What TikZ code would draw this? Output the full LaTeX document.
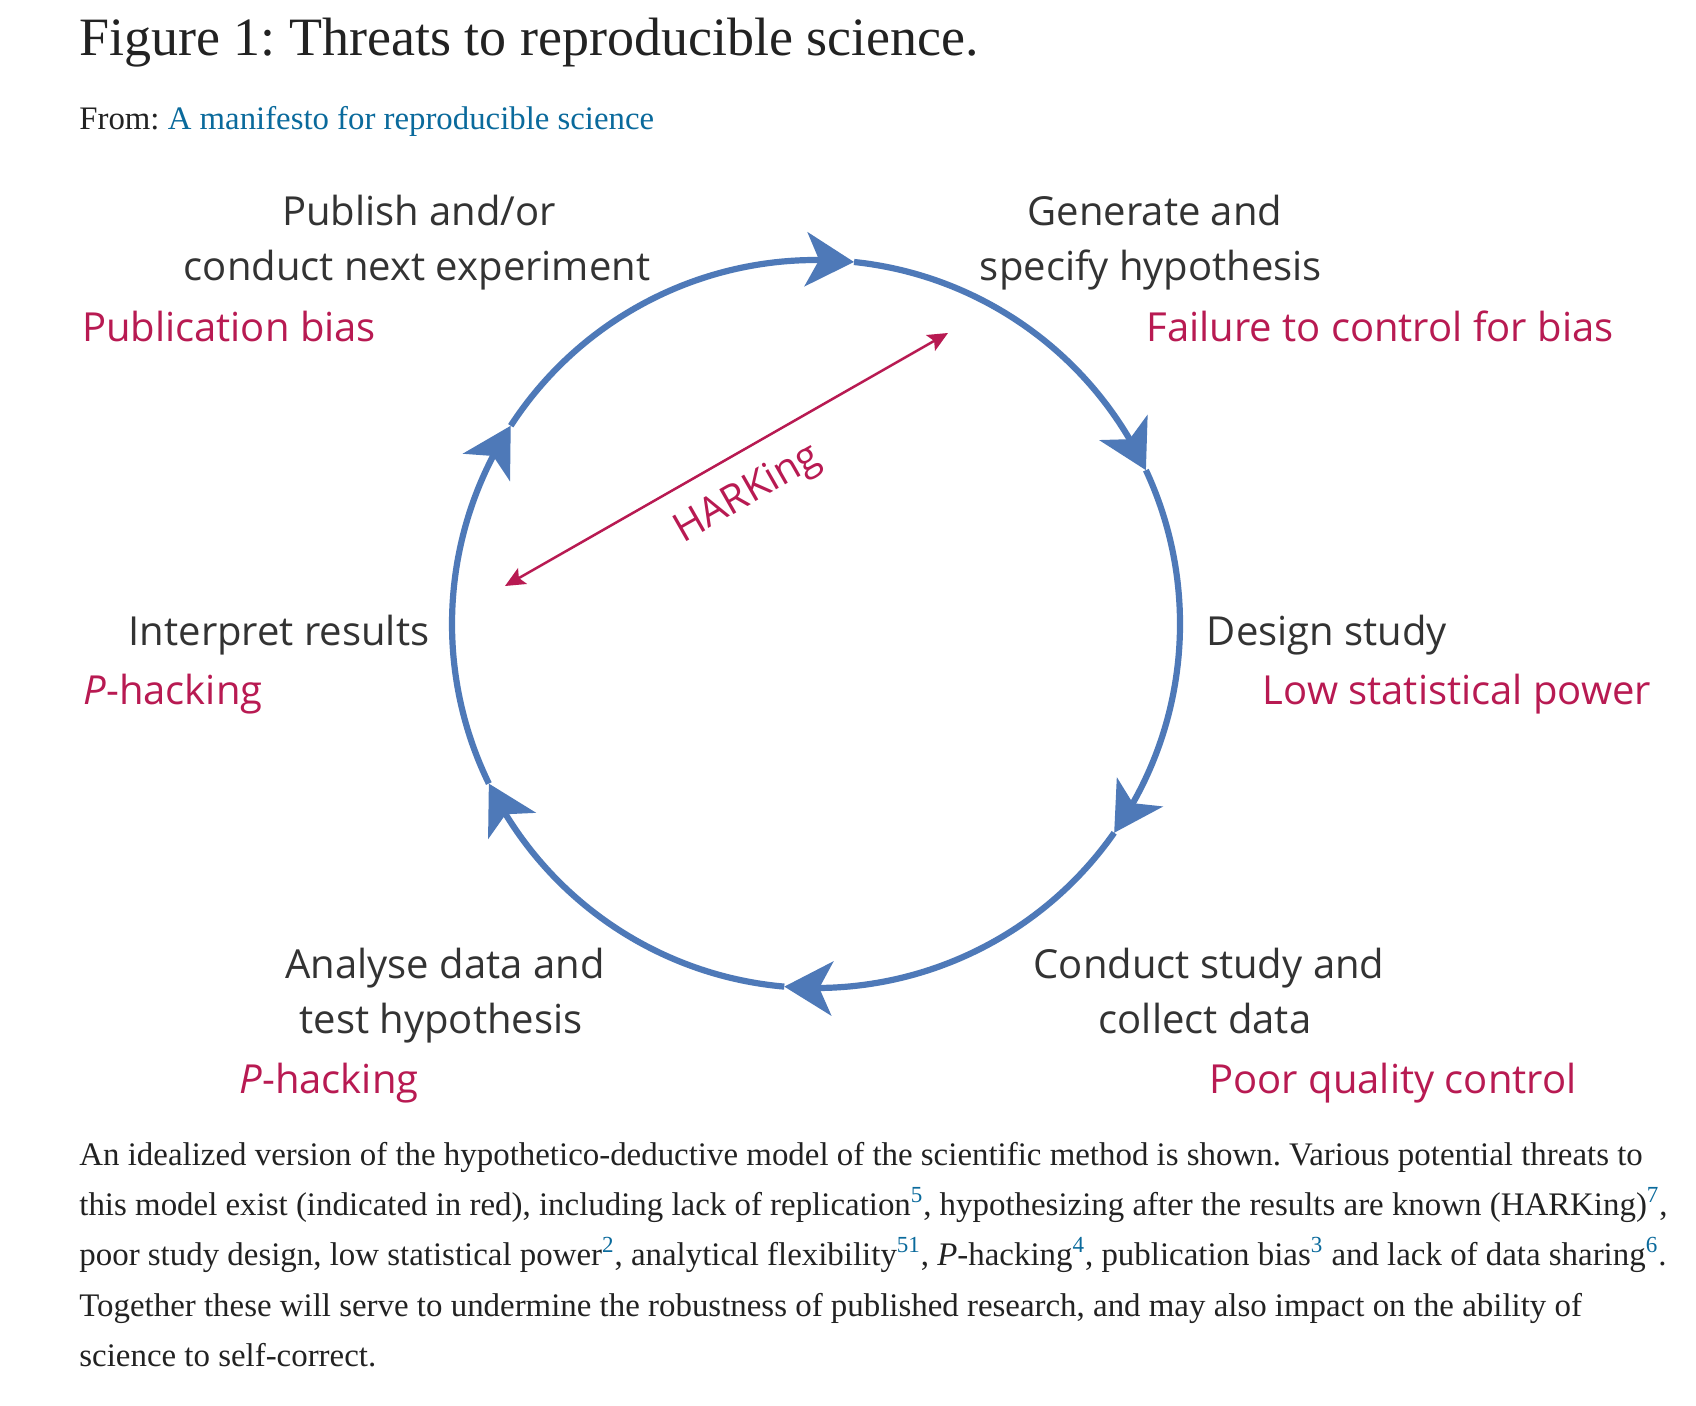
\documentclass[tikz,border=0pt]{standalone}
\usepackage{fontspec}
\setmainfont{Liberation Serif}
\newfontfamily\labelfont{Open Sans}
\usetikzlibrary{arrows.meta,bending}
\definecolor{circblue}{HTML}{4E79B8}
\definecolor{threatred}{HTML}{B81A52}
\definecolor{labelgray}{HTML}{333333}
\definecolor{titlegray}{HTML}{222222}
\definecolor{linkblue}{HTML}{0A6A9C}
\newcommand{\refnum}[1]{\textsuperscript{\textcolor{linkblue}{#1}}}
\frenchspacing
\begin{document}
\begin{tikzpicture}[x=0.5pt,y=-0.5pt,
  lbl/.style={font=\labelfont\fontsize{20pt}{27.5pt}\selectfont, text=labelgray, inner sep=0pt, anchor=base},
  threat/.style={lbl, text=threatred},
  circ/.style={draw=circblue, line width=3.1pt, -{Stealth[length=24pt,width=27pt,inset=6.5pt]}},
  hark/.style={draw=threatred, line width=1.25pt, {Stealth[length=10pt,width=9pt,inset=2pt]}-{Stealth[length=10pt,width=9pt,inset=2pt]}},
  capline/.style={anchor=base west, inner sep=0pt, text=titlegray, font=\fontsize{16.45pt}{20pt}\selectfont}
]
\path[use as bounding box, fill=white] (0,0) rectangle (1696,1406);

% header
\node[anchor=base west, inner sep=0pt, text=titlegray, font=\fontsize{27pt}{32pt}\selectfont] (title) at (79,56) {Figure 1: Threats to reproducible science.};
\node[anchor=base west, inner sep=0pt, text=titlegray, font=\fontsize{16.4pt}{20pt}\selectfont] (from) at (79,130) {From: \textcolor{linkblue}{A manifesto for reproducible science}};

% cycle
\coordinate (c) at (816,624);
\draw[circ] (c) ++(-147:364) arc[start angle=-147, end angle=-84, radius=364];
\draw[circ] (c) ++(-84:364) arc[start angle=-84, end angle=-25, radius=364];
\draw[circ] (c) ++(-25:364) arc[start angle=-25, end angle=35, radius=364];
\draw[circ] (c) ++(35:364) arc[start angle=35, end angle=95, radius=364];
\draw[circ] (c) ++(95:364) arc[start angle=95, end angle=154, radius=364];
\draw[circ] (c) ++(154:364) arc[start angle=154, end angle=213, radius=364];

% HARKing
\coordinate (h1) at (505,586);
\coordinate (h2) at (948,333);
\draw[hark] (h1) -- (h2);
\node[threat, anchor=center, rotate=29.7] (hk) at (748,495) {HARKing};

% labels
\node[lbl] (pub1) at (419,226) {Publish and/or};
\node[lbl] (pub2) at (417,281) {conduct next experiment};
\node[threat] (pubt) at (229,342) {Publication bias};

\node[lbl] (gen1) at (1155,226) {Generate and};
\node[lbl] (gen2) at (1151,281) {specify hypothesis};
\node[threat] (gent) at (1380,342) {Failure to control for bias};

\node[lbl] (des1) at (1327,645) {Design study};
\node[threat] (dest) at (1457,704) {Low statistical power};

\node[lbl] (int1) at (279,645) {Interpret results};
\node[threat] (intt) at (173,704) {\textit{P}-hacking};

\node[lbl] (ana1) at (445,978) {Analyse data and};
\node[lbl] (ana2) at (441,1033) {test hypothesis};
\node[threat] (anat) at (329,1093) {\textit{P}-hacking};

\node[lbl] (con1) at (1209,978) {Conduct study and};
\node[lbl] (con2) at (1205,1033) {collect data};
\node[threat] (cont) at (1393,1093) {Poor quality control};

% caption
\node[capline] (cap1) at (79,1165) {An idealized version of the hypothetico-deductive model of the scientific method is shown. Various potential threats to};
\node[capline] (cap2) at (79,1215) {this model exist (indicated in red), including lack of replication\refnum{5}, hypothesizing after the results are known (HARKing)\refnum{7},};
\node[capline] (cap3) at (79,1265) {poor study design, low statistical power\refnum{2}, analytical flexibility\refnum{51}, \textit{P}-hacking\refnum{4}, publication bias\refnum{3} and lack of data sharing\refnum{6}.};
\node[capline] (cap4) at (79,1316) {Together these will serve to undermine the robustness of published research, and may also impact on the ability of};
\node[capline] (cap5) at (79,1366) {science to self-correct.};
\end{tikzpicture}
\end{document}
